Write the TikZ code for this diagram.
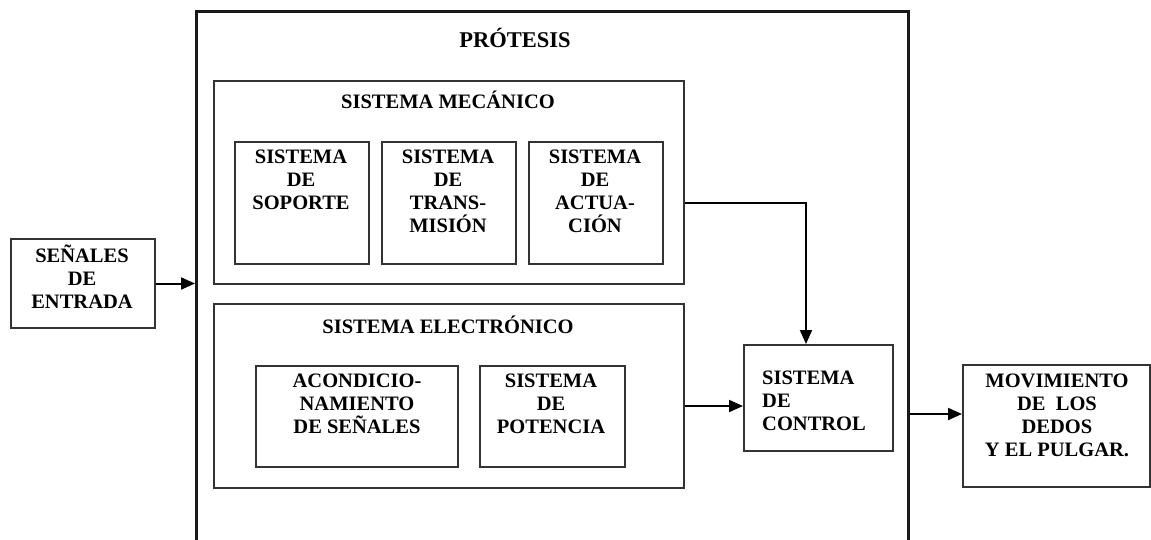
\documentclass[tikz,border=0pt]{standalone}
\usepackage{fontspec}
\setmainfont{Liberation Serif}
\usetikzlibrary{arrows.meta}
\tikzset{
  box/.style={draw=black!80, line width=2pt, rectangle, inner sep=0pt, anchor=north west},
  outerbox/.style={draw=black!90, line width=2.6pt, rectangle, inner sep=0pt, anchor=north west},
  txt/.style={font=\bfseries\fontsize{20.5}{23}\selectfont, align=center, inner sep=0pt, anchor=north},
  ttl/.style={font=\bfseries\fontsize{22.5}{26}\selectfont, inner sep=0pt, anchor=base},
  arr/.style={draw=black, line width=2pt, -{Triangle[length=14pt,width=12pt]}}
}
\newcommand{\st}{\rule{0pt}{19pt}}
\begin{document}
\begin{tikzpicture}[x=1pt,y=-1pt]
\clip (0,0) rectangle (1151,539);
\fill[white] (0,0) rectangle (1151,539);
% boxes
\node[outerbox, minimum width=712pt, minimum height=560pt] (pro) at (195,10) {};
\node[box, minimum width=470pt, minimum height=203pt] (mec) at (213,80) {};
\node[box, minimum width=134pt, minimum height=122pt] (sop) at (234,141) {};
\node[box, minimum width=134pt, minimum height=122pt] (tra) at (381,141) {};
\node[box, minimum width=134pt, minimum height=122pt] (act) at (528,141) {};
\node[box, minimum width=470pt, minimum height=184pt] (ele) at (213,303) {};
\node[box, minimum width=202pt, minimum height=101pt] (aco) at (255,365) {};
\node[box, minimum width=145pt, minimum height=101pt] (pot) at (479,365) {};
\node[box, minimum width=149pt, minimum height=106pt] (ctl) at (743,344) {};
\node[box, minimum width=144pt, minimum height=89pt] (sen) at (10,238) {};
\node[box, minimum width=187pt, minimum height=122pt] (mov) at (962,364) {};
% titles
\node[ttl] (tpro) at (515,47) {PRÓTESIS};
\node[ttl, font=\bfseries\fontsize{20.5}{23}\selectfont] (tmec) at (448,108) {SISTEMA MECÁNICO};
\node[ttl, font=\bfseries\fontsize{20.5}{23}\selectfont] (tele) at (448,333) {SISTEMA ELECTRÓNICO};
% texts
\node[txt] (tsen) at (82,243) {\st SEÑALES\\DE\\ENTRADA};
\node[txt] (tsop) at (301,144) {\st SISTEMA\\DE\\SOPORTE};
\node[txt] (ttra) at (448,144) {\st SISTEMA\\DE\\TRANS-\\MISIÓN};
\node[txt] (tact) at (595,144) {\st SISTEMA\\DE\\ACTUA-\\CIÓN};
\node[txt] (taco) at (357,368) {\st ACONDICIO-\\NAMIENTO\\DE SEÑALES};
\node[txt] (tpot) at (551,368) {\st SISTEMA\\DE\\POTENCIA};
\node[txt, align=left, anchor=north west] (tctl) at (762,365) {\st SISTEMA\\DE\\CONTROL};
\node[txt] (tmov) at (1057,368) {\st MOVIMIENTO\\DE\ \ LOS\\DEDOS\\Y EL PULGAR.};
% connectors
\draw[arr] (sen.east) -- (sen.east -| pro.west);
\draw[arr] ([yshift=-20.5pt]mec.east) -| ([xshift=-12.5pt]ctl.north);
\draw[arr] ([yshift=-10pt]ele.east) -- ([yshift=-10pt]ele.east -| ctl.west);
\draw[arr] ([yshift=12pt]mov.west -| pro.east) -- ([yshift=12pt]mov.west);
\end{tikzpicture}
\end{document}
